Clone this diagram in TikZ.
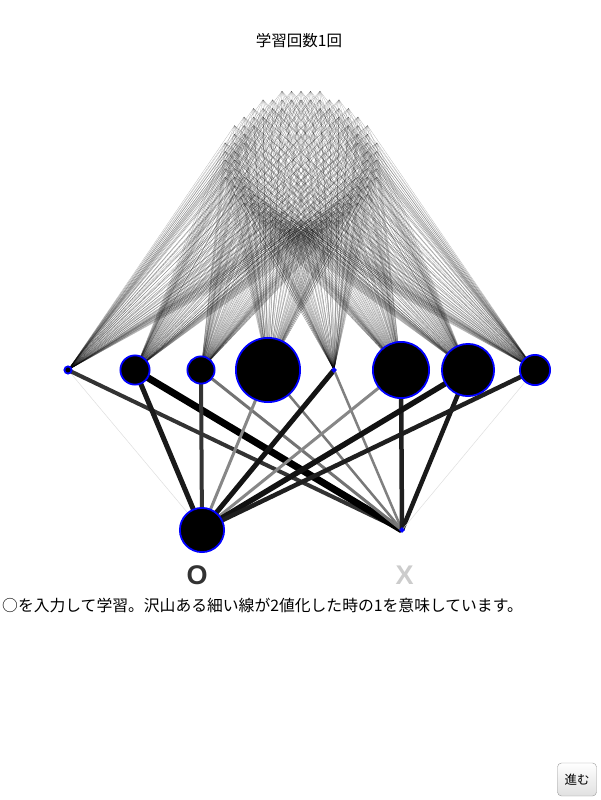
\documentclass[tikz,border=0pt]{standalone}
\usepackage{fontspec}
\setmainfont{Noto Sans CJK JP}
\newfontfamily\latinbold{Liberation Sans}[BoldFont={Liberation Sans Bold}]
\pgfdeclarelayer{bg}
\pgfsetlayers{bg,main}
\definecolor{blu}{RGB}{0,0,255}
\begin{document}
\begin{tikzpicture}[x=1pt,y=-1pt,
  hid/.style={circle,fill=black,draw=blu,line width=1.8pt,inner sep=0pt,minimum size=#1},
  inl/.style={line width=0.25pt,draw=black,draw opacity=0.3},
  wt/.style={line width=#1,line cap=butt},
  lbl/.style={font=\latinbold\bfseries\fontsize{27}{28}\selectfont,inner sep=0pt}]
\useasboundingbox (0,0) rectangle (600,800);
% hidden layer
\node[hid=7.2pt]  (h1) at (68,370) {};
\node[hid=29.2pt] (h2) at (135,370) {};
\node[hid=27.2pt] (h3) at (201,370) {};
\node[hid=64.2pt] (h4) at (268,370) {};
\node[hid=3pt]    (h5) at (334,370) {};
\node[hid=56.2pt] (h6) at (401,370) {};
\node[hid=52.2pt] (h7) at (468,370) {};
\node[hid=30.2pt] (h8) at (535,370) {};
% output layer
\node[hid=44.2pt] (o1) at (202,530) {};
\node[hid=3pt]    (o2) at (402,530) {};
\node[lbl,text=black!80] (lo) at (197,575) {O};
\node[lbl,text=black!20] (lx) at (404.5,575) {X};
\begin{pgfonlayer}{bg}
% input pixels (binarized circle) to hidden nodes
\foreach \u in {-8,...,8}{
  \foreach \v in {-8,...,8}{
    \pgfmathtruncatemacro\ok{and(\u*\u+\v*\v>=40,\u*\u+\v*\v<=71)}
    \ifnum\ok=1
      \coordinate (p\u x\v) at ({301+9.5*\u},{160+8.6*\v});
      \foreach \h in {1,...,8}{\draw[inl] (p\u x\v) -- (h\h.center);}
    \fi
  }}
% hidden to output
\draw[wt=0.5pt,draw=black!13] (h1.center) -- (o1.center);
\draw[wt=4pt,draw=black!80]   (h1.center) -- (o2.center);
\draw[wt=5pt,draw=black!90]   (h2.center) -- (o1.center);
\draw[wt=7pt,draw=black]      (h2.center) -- (o2.center);
\draw[wt=4pt,draw=black!80]   (h3.center) -- (o1.center);
\draw[wt=3pt,draw=black!55]   (h3.center) -- (o2.center);
\draw[wt=3pt,draw=black!47]   (h4.center) -- (o1.center);
\draw[wt=2.5pt,draw=black!53] (h4.center) -- (o2.center);
\draw[wt=5pt,draw=black!92]   (h5.center) -- (o1.center);
\draw[wt=2.5pt,draw=black!50] (h5.center) -- (o2.center);
\draw[wt=3pt,draw=black!47]   (h6.center) -- (o1.center);
\draw[wt=4.5pt,draw=black!88] (h6.center) -- (o2.center);
\draw[wt=5.5pt,draw=black!93] (h7.center) -- (o1.center);
\draw[wt=4.5pt,draw=black!90] (h7.center) -- (o2.center);
\draw[wt=4.5pt,draw=black!88] (h8.center) -- (o1.center);
\draw[wt=0.5pt,draw=black!13] (h8.center) -- (o2.center);
\end{pgfonlayer}
% texts
\node[font=\fontsize{15.5}{18}\selectfont] (title) at (299,41) {学習回数1回};
\node[anchor=west,inner sep=0pt,font=\fontsize{15.8}{18}\selectfont] (cap) at (2,605)
  {○を入力して学習。沢山ある細い線が2値化した時の1を意味しています。};
\node[draw=black!40,rounded corners=4pt,top color=white,bottom color=black!12,
  minimum width=39pt,minimum height=33pt,inner sep=0pt,font=\fontsize{12.5}{15}\selectfont]
  (btn) at (577,779.5) {進む};
\end{tikzpicture}
\end{document}
